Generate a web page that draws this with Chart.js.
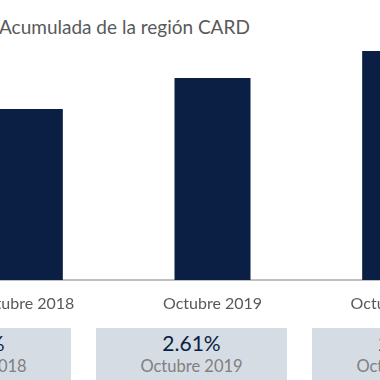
<!DOCTYPE html>
<html>
<head>
<meta charset="utf-8">
<script src="https://cdn.jsdelivr.net/npm/chart.js@4"></script>
<style>
  html, body { margin: 0; padding: 0; background: #fff; }
  body { width: 380px; height: 380px; overflow: hidden; position: relative; font-family: "Lato", "Open Sans", sans-serif; }
  .title { position: absolute; left: -1px; top: 15px; font-size: 19px; color: #595959; white-space: nowrap; }
  .wrap { position: absolute; left: -69px; top: 40px; width: 563px; height: 280px; }
  .box { position: absolute; top: 328px; width: 191px; height: 52px; background: #d6dce4; text-align: center; }
  .box .v { font-size: 21px; color: #0b1f44; margin-top: 3px; line-height: 24px; }
  .box .l { font-size: 16.5px; color: #808080; line-height: 22px; }
</style>
</head>
<body>
<div class="title">Acumulada de la región CARD</div>
<div class="wrap"><canvas id="chart"></canvas></div>
<div id="boxes"></div>
<script>
var categories = ["Octubre 2018", "Octubre 2019", "Octubre 2020"];
var values = [171, 202, 229];
var boxValues = ["2.45%", "2.61%", "2.78%"];
var boxLefts = [-120, 96, 312];

var boxesEl = document.getElementById("boxes");
for (var i = 0; i < categories.length; i++) {
    var b = document.createElement("div");
    b.className = "box";
    b.style.left = boxLefts[i] + "px";
    b.innerHTML = '<div class="v">' + boxValues[i] + '</div><div class="l">' + categories[i] + '</div>';
    boxesEl.appendChild(b);
}

var ctx = document.getElementById("chart");
var myBarChart = new Chart(ctx, {
    type: 'bar',
    data: {
        labels: categories,
        datasets: [
            {
                data: values,
                backgroundColor: "#0b1f44",
                categoryPercentage: 1,
                barPercentage: 0.405
            }
        ]
    },
    options: {
        responsive: true,
        maintainAspectRatio: false,
        animation: false,
        layout: { padding: 0 },
        plugins: { legend: { display: false }, tooltip: { enabled: false } },
        scales: {
            x: {
                grid: { display: false },
                border: { color: "#bfbfbf", width: 2 },
                ticks: { color: "#595959", font: { family: "Lato", size: 16 }, padding: 6 },
                afterFit: function (scale) { scale.height = 40; }
            },
            y: {
                display: false,
                min: 0,
                max: 240
            }
        }
    }
});
</script>
</body>
</html>
